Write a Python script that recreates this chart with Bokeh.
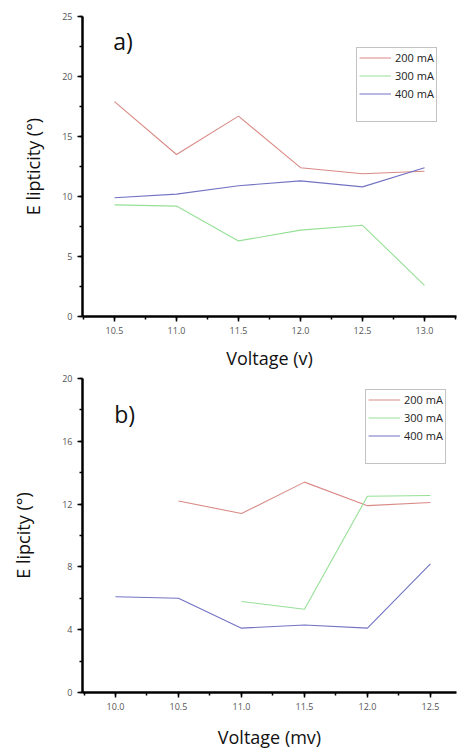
from bokeh.plotting import figure
from bokeh.layouts import column
from bokeh.models import (SingleIntervalTicker, PrintfTickFormatter, Range1d,
                          Legend, LegendItem, Label)
from bokeh.embed import file_html
from bokeh.resources import INLINE

# ---- data: panel a) ----
volt_a = [10.5, 11.0, 11.5, 12.0, 12.5, 13.0]
a_200 = [17.9, 13.5, 16.7, 12.4, 11.9, 12.1]
a_300 = [9.3, 9.2, 6.3, 7.2, 7.6, 2.6]
a_400 = [9.9, 10.2, 10.9, 11.3, 10.8, 12.4]

# ---- data: panel b) ----
volt_b_200 = [10.5, 11.0, 11.5, 12.0, 12.5]
b_200 = [12.2, 11.4, 13.4, 11.9, 12.1]
volt_b_300 = [11.0, 11.5, 12.0, 12.5]
b_300 = [5.8, 5.3, 12.5, 12.55]
volt_b_400 = [10.0, 10.5, 11.0, 11.5, 12.0, 12.5]
b_400 = [6.1, 6.0, 4.1, 4.3, 4.1, 8.2]

series_labels = ["200 mA", "300 mA", "400 mA"]
colors = ["#d98a86", "#96e096", "#7373c4"]

FONT = "Open Sans"


def style(p, xlabel, ylabel, xint, yint, ylab_standoff, xlab_standoff):
    p.outline_line_color = None
    p.xgrid.visible = False
    p.ygrid.visible = False
    p.xaxis.ticker = SingleIntervalTicker(interval=xint, num_minor_ticks=2)
    p.yaxis.ticker = SingleIntervalTicker(interval=yint, num_minor_ticks=2)
    p.xaxis.formatter = PrintfTickFormatter(format="%.1f")
    for ax in (p.xaxis, p.yaxis):
        ax.axis_line_width = 2.5
        ax.axis_line_color = "black"
        ax.major_tick_in = 0
        ax.major_tick_out = 5
        ax.minor_tick_in = 0
        ax.minor_tick_out = 3
        ax.major_tick_line_width = 1.5
        ax.minor_tick_line_width = 1.5
        ax.major_tick_line_color = "black"
        ax.minor_tick_line_color = "black"
        ax.major_label_text_font = FONT
        ax.major_label_text_font_size = "9px"
        ax.major_label_text_color = "#555555"
        ax.axis_label_text_font = FONT
        ax.axis_label_text_font_size = "18px"
        ax.axis_label_text_font_style = "normal"
        ax.axis_label_text_color = "#111111"
    p.xaxis.axis_label = xlabel
    p.yaxis.axis_label = ylabel
    p.yaxis.axis_label_standoff = ylab_standoff
    p.xaxis.axis_label_standoff = xlab_standoff


def add_legend(p, renderers, loc):
    blank = p.line(x=[], y=[], line_alpha=0)
    items = [LegendItem(label=l, renderers=[r]) for l, r in zip(series_labels, renderers)]
    items.append(LegendItem(label=" ", renderers=[blank]))
    leg = Legend(items=items, location=loc)
    leg.border_line_color = "#888888"
    leg.border_line_width = 1
    leg.background_fill_alpha = 1
    leg.label_text_font = FONT
    leg.label_text_font_size = "11px"
    leg.label_text_color = "#222222"
    leg.glyph_width = 32
    leg.glyph_height = 15
    leg.label_height = 15
    leg.spacing = 3
    leg.padding = 2
    leg.margin = 0
    leg.label_standoff = 4
    p.add_layout(leg)


# ---------- panel a ----------
p1 = figure(width=460, height=372, output_backend="svg", toolbar_location=None,
            x_range=Range1d(10.242, 13.258), y_range=Range1d(0, 25),
            min_border_left=82, min_border_right=4, min_border_top=16,
            min_border_bottom=56)
style(p1, "Voltage (v)", "E lipticity (°)", 0.5, 5, 14, 9)
ra = []
for ys, c in zip([a_200, a_300, a_400], colors):
    ra.append(p1.line(volt_a, ys, line_color=c, line_width=1.1))
add_legend(p1, ra, (274, 194))
p1.add_layout(Label(x=10.49, y=21.6, text="a)", text_font=FONT,
                    text_font_size="23px", text_color="#111111"))

# ---------- panel b ----------
p2 = figure(width=460, height=379, output_backend="svg", toolbar_location=None,
            x_range=Range1d(9.738, 12.707), y_range=Range1d(0, 20),
            min_border_left=74, min_border_right=0, min_border_top=6,
            min_border_bottom=59)
style(p2, "Voltage (mv)", "E lipcity (°)", 0.5, 4, 24, 12)
rb = []
for xs, ys, c in zip([volt_b_200, volt_b_300, volt_b_400], [b_200, b_300, b_400], colors):
    rb.append(p2.line(xs, ys, line_color=c, line_width=1.1))
add_legend(p2, rb, (283, 228))
p2.add_layout(Label(x=9.99, y=16.7, text="b)", text_font=FONT,
                    text_font_size="23px", text_color="#111111"))

layout = column(p1, p2, spacing=0)
open("out.html", "w").write(file_html(layout, INLINE))
